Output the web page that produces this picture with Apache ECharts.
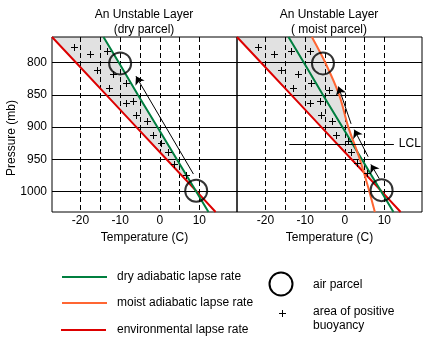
<!DOCTYPE html>
<html>
<head>
<meta charset="utf-8">
<script src="https://cdn.jsdelivr.net/npm/echarts@6/dist/echarts.min.js"></script>
<style>
html, body { margin: 0; padding: 0; background: #fff; }
#chart { width: 447px; height: 354px; }
</style>
</head>
<body>
<div id="chart"></div>
<script>
// sounding: pressure levels (mb) and temperatures (C)
const pressures = [760, 800, 850, 900, 950, 1000, 1032]
const envTemp = [-27.2, -21.1, -13.5, -5.9, 1.7, 9.3, 14.1]
const dryTemp = [-14.2, -10.3, -5.5, -0.6, 4.3, 9.2, 12.3]
const moistTemp = [-8.3, -4.9, -1.4, 0.9, 3.8, 6.2, 7.6]

const tempTicks = [-20, -15, -10, -5, 0, 5, 10]
const tempLabels = [-20, -10, 0, 10]
const pressureTicks = [800, 850, 900, 950, 1000]

// "+" marks of positive buoyancy, [temp, pressure]
const leftBuoyancy = [[-21.7, 775], [-17.5, 787], [-13.4, 781], [-15.9, 812], [-11.9, 818], [-12.7, 840],
  [-8.4, 832], [-8.6, 863], [-6.7, 860], [-6.0, 881], [-3.2, 891], [-1.8, 912], [0.2, 925], [2.0, 939],
  [3.5, 958], [6.6, 974]]
const rightBuoyancy = [[-21.8, 775], [-17.8, 787], [-13.5, 781], [-8.8, 781], [-16.1, 812], [-11.9, 818],
  [-13.0, 840], [-8.4, 832], [-4.1, 842], [-8.8, 863], [-6.2, 860], [-6.1, 881], [-3.1, 891], [-2.1, 912],
  [0.7, 922], [1.7, 938], [3.2, 956], [5.7, 972]]

const leftParcels = [[-10.0, 801], [9.2, 999]]
const rightParcels = [[-5.5, 801], [9.3, 998]]
const leftPath = [[[8.5, 973], [-6.0, 821]]]
const rightPath = [[[8.7, 980], [6.6, 958]], [[5.9, 946], [2.4, 904]], [[1.6, 895], [-1.6, 837]]]
const lclPressure = 926
const lclTemps = [-14.0, 12.4]

const tMin = -27.2
const tMax = 19.5
const pMin = 760
const pMax = 1032

const FONT = '"Liberation Sans", Arial, sans-serif'
const RED = '#dd0000'
const GREEN = '#007f3f'
const ORANGE = '#ff6633'
const SHADE = '#e1e1e1'

function pts (temps) {
  return pressures.map((p, i) => [temps[i], p])
}

// where two temperature profiles cross
function crossAt (a, b) {
  for (let i = 0; i < pressures.length - 1; i++) {
    const d0 = a[i] - b[i]
    const d1 = a[i + 1] - b[i + 1]
    if (d0 * d1 <= 0 && d0 !== d1) {
      const t = d0 / (d0 - d1)
      return { i, pt: [a[i] + t * (a[i + 1] - a[i]), pressures[i] + t * (pressures[i + 1] - pressures[i])] }
    }
  }
}

const ed = crossAt(envTemp, dryTemp)
const md = crossAt(moistTemp, dryTemp)
const envUp = pts(envTemp).slice(0, ed.i + 1).reverse()
const leftShade = [...pts(dryTemp).slice(0, ed.i + 1), ed.pt, ...envUp]
const rightShade = [...pts(moistTemp).slice(0, md.i + 1), md.pt,
  ...pts(dryTemp).slice(md.i + 1, ed.i + 1), ed.pt, ...envUp]

const txt = { color: '#000', fontSize: 12, fontFamily: FONT }

function xAxis (gridIndex) {
  return {
    gridIndex,
    type: 'value',
    min: tMin,
    max: tMax,
    z: 1,
    name: 'Temperature (C)',
    nameLocation: 'middle',
    nameGap: 20,
    nameTextStyle: txt,
    axisLine: { show: false },
    axisTick: { show: false, customValues: tempTicks },
    axisLabel: Object.assign({ customValues: tempLabels, margin: 3 }, txt),
    splitLine: { show: true, lineStyle: { color: '#000', width: 1, type: [5, 3] } }
  }
}

function yAxis (gridIndex, showLabels) {
  return {
    gridIndex,
    type: 'value',
    inverse: true,
    min: pMin,
    max: pMax,
    z: 1,
    axisLine: { show: false },
    axisTick: { show: false, customValues: pressureTicks },
    axisLabel: Object.assign({ show: showLabels, customValues: pressureTicks, margin: 5, formatter: v => String(v) }, txt),
    splitLine: { show: true, lineStyle: { color: '#000', width: 1 } }
  }
}

function shade (gridIndex, poly) {
  return {
    type: 'custom',
    xAxisIndex: gridIndex,
    yAxisIndex: gridIndex,
    z: 0,
    silent: true,
    data: [[0, 900]],
    renderItem: (params, api) => ({
      type: 'polygon',
      shape: { points: poly.map(p => api.coord(p)) },
      style: { fill: SHADE }
    })
  }
}

function profile (gridIndex, temps, color, smooth) {
  return {
    type: 'line',
    xAxisIndex: gridIndex,
    yAxisIndex: gridIndex,
    z: 3,
    silent: true,
    symbol: 'none',
    smooth: smooth || false,
    lineStyle: { color, width: 2 },
    data: pts(temps)
  }
}

// crisp one-pixel "+" marks, snapped to the pixel grid
function pluses (gridIndex, data) {
  return {
    type: 'custom',
    xAxisIndex: gridIndex,
    yAxisIndex: gridIndex,
    z: 4,
    silent: true,
    data,
    renderItem: (params, api) => {
      const c = api.coord([api.value(0), api.value(1)])
      const x = Math.round(c[0])
      const y = Math.round(c[1])
      return {
        type: 'group',
        children: [
          { type: 'rect', shape: { x: x - 3, y, width: 7, height: 1 }, style: { fill: '#000' } },
          { type: 'rect', shape: { x, y: y - 3, width: 1, height: 7 }, style: { fill: '#000' } }
        ]
      }
    }
  }
}

function parcels (gridIndex, data) {
  return {
    type: 'scatter',
    xAxisIndex: gridIndex,
    yAxisIndex: gridIndex,
    z: 5,
    silent: true,
    symbol: 'circle',
    symbolSize: 22,
    itemStyle: { color: 'rgba(0,0,0,0)', borderColor: '#000', borderWidth: 2 },
    data
  }
}

function arrows (gridIndex, data) {
  return {
    type: 'lines',
    coordinateSystem: 'cartesian2d',
    xAxisIndex: gridIndex,
    yAxisIndex: gridIndex,
    z: 5,
    silent: true,
    symbol: ['none', 'arrow'],
    symbolSize: 8,
    lineStyle: { color: '#000', width: 1, opacity: 1 },
    data: data.map(c => ({ coords: c }))
  }
}

function label (text, x, y, extra) {
  return {
    type: 'text',
    x,
    y,
    silent: true,
    style: Object.assign({ text, verticalAlign: 'middle', fill: '#000', fontSize: 12, fontFamily: FONT }, extra || {})
  }
}

const chart = echarts.init(document.getElementById('chart'))

chart.setOption({
  backgroundColor: '#fff',
  animation: false,
  grid: [
    { left: 52, top: 37, width: 185, height: 175, show: true, z: 1, borderColor: '#000', borderWidth: 1, backgroundColor: 'transparent', outerBoundsMode: 'none' },
    { left: 237, top: 37, width: 185, height: 175, show: true, z: 1, borderColor: '#000', borderWidth: 1, backgroundColor: 'transparent', outerBoundsMode: 'none' }
  ],
  xAxis: [xAxis(0), xAxis(1)],
  yAxis: [yAxis(0, true), yAxis(1, false)],
  series: [
    shade(0, leftShade),
    shade(1, rightShade),
    profile(0, envTemp, RED),
    profile(0, dryTemp, GREEN),
    profile(1, envTemp, RED),
    profile(1, dryTemp, GREEN),
    profile(1, moistTemp, ORANGE, 0.3),
    pluses(0, leftBuoyancy),
    pluses(1, rightBuoyancy),
    parcels(0, leftParcels),
    parcels(1, rightParcels),
    arrows(0, leftPath),
    arrows(1, rightPath),
    {
      type: 'lines',
      coordinateSystem: 'cartesian2d',
      xAxisIndex: 1,
      yAxisIndex: 1,
      z: 5,
      silent: true,
      lineStyle: { color: '#000', width: 1, opacity: 1 },
      label: Object.assign({ show: true, position: 'end', distance: 5, formatter: 'LCL' }, txt),
      data: [{ coords: [[lclTemps[0], lclPressure], [lclTemps[1], lclPressure]] }]
    }
  ],
  graphic: [
    label('An Unstable Layer\n(dry parcel)', 144, 7, { align: 'center', verticalAlign: 'top', lineHeight: 15 }),
    label('An Unstable Layer\n( moist parcel)', 329, 7, { align: 'center', verticalAlign: 'top', lineHeight: 15 }),
    Object.assign(label('Pressure (mb)', 12, 138, { align: 'center' }), { rotation: Math.PI / 2 }),

    { type: 'line', silent: true, shape: { x1: 62, y1: 277, x2: 107, y2: 277 }, style: { stroke: GREEN, lineWidth: 2 } },
    { type: 'line', silent: true, shape: { x1: 62, y1: 303, x2: 107, y2: 303 }, style: { stroke: ORANGE, lineWidth: 2 } },
    { type: 'line', silent: true, shape: { x1: 61, y1: 330, x2: 106, y2: 330 }, style: { stroke: RED, lineWidth: 2 } },
    label('dry adiabatic lapse rate', 117, 277),
    label('moist adiabatic lapse rate', 117, 303),
    label('environmental lapse rate', 117, 330),

    { type: 'circle', silent: true, shape: { cx: 281, cy: 284, r: 11.5 }, style: { fill: 'transparent', stroke: '#000', lineWidth: 2 } },
    label('air parcel', 313, 285),
    { type: 'rect', silent: true, shape: { x: 279, y: 313, width: 7, height: 1 }, style: { fill: '#000' } },
    { type: 'rect', silent: true, shape: { x: 282, y: 310, width: 1, height: 7 }, style: { fill: '#000' } },
    label('area of positive', 313, 312),
    label('buoyancy', 313, 326)
  ]
})
</script>
</body>
</html>
